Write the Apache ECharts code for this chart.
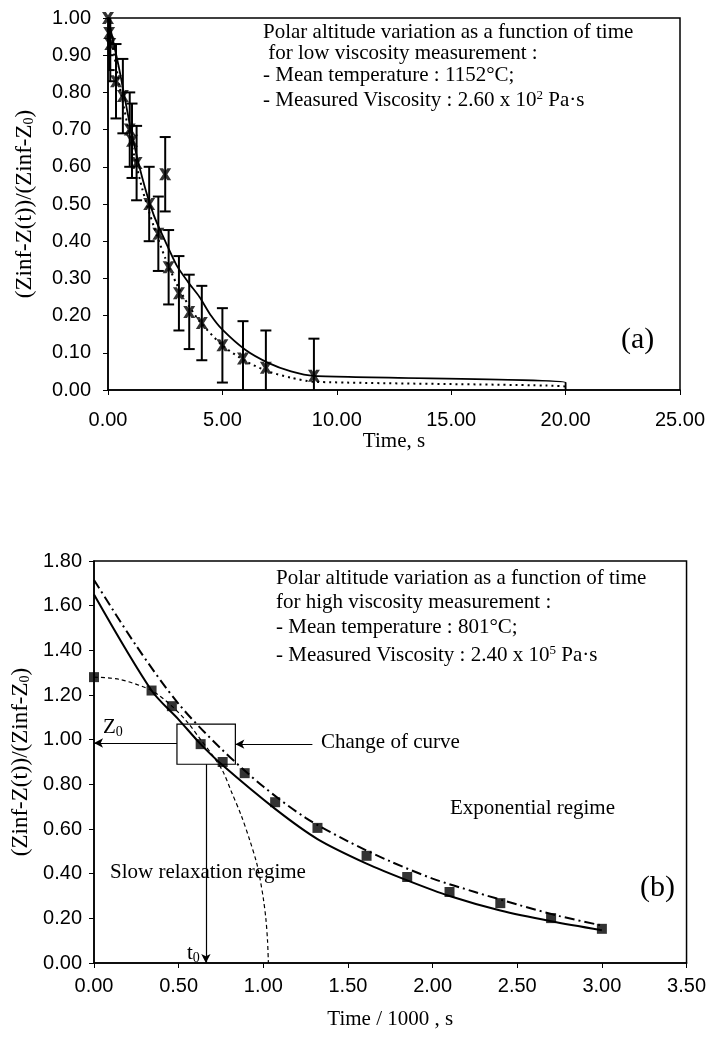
<!DOCTYPE html>
<html><head><meta charset="utf-8">
<script src="https://cdn.jsdelivr.net/npm/echarts@6/dist/echarts.min.js"></script>
<style>html,body{margin:0;padding:0;background:#fff}#c{width:709px;height:1038px}</style>
</head><body><div id="c"></div>
<script>
// ---------- Chart (a): low viscosity ----------
const aTime   = [0.0, 0.05, 0.1, 0.35, 0.65, 0.95, 1.05, 1.25, 1.8, 2.2, 2.5, 2.65, 3.1, 3.55, 4.1, 5.0, 5.9, 6.9, 9.0];
const aValue  = [1.00, 0.96, 0.93, 0.83, 0.79, 0.70, 0.67, 0.61, 0.50, 0.42, 0.58, 0.33, 0.26, 0.21, 0.18, 0.12, 0.085, 0.06, 0.038];
const aError  = [0.10, 0.10, 0.10, 0.10, 0.10, 0.10, 0.10, 0.10, 0.10, 0.10, 0.10, 0.10, 0.10, 0.10, 0.10, 0.10, 0.10, 0.10, 0.10];
const aSolidT = [0, 0.5, 1.0, 1.5, 2.0, 2.5, 3.0, 3.5, 4.0, 4.5, 5.0, 6.0, 7.0, 8.0, 9.0, 20.0, 20.0];
const aSolidV = [1.0, 0.86, 0.70, 0.57, 0.47, 0.40, 0.335, 0.29, 0.25, 0.20, 0.162, 0.108, 0.073, 0.05, 0.038, 0.02, 0.0];
const aDotT   = [0, 0.5, 1.0, 1.5, 2.0, 2.5, 3.0, 3.5, 4.0, 5.0, 6.0, 7.0, 8.0, 9.0, 20.0, 20.0];
const aDotV   = [1.0, 0.82, 0.67, 0.54, 0.44, 0.355, 0.285, 0.23, 0.185, 0.12, 0.078, 0.05, 0.033, 0.022, 0.009, 0.0];
const aXTicks = {min: 0, max: 25, interval: 5};
const aYTicks = {min: 0, max: 1, interval: 0.1};

// ---------- Chart (b): high viscosity ----------
const bTime   = [0.0, 0.34, 0.46, 0.63, 0.76, 0.89, 1.07, 1.32, 1.61, 1.85, 2.10, 2.40, 2.70, 3.00];
const bValue  = [1.28, 1.22, 1.15, 0.98, 0.90, 0.85, 0.72, 0.605, 0.48, 0.385, 0.318, 0.268, 0.201, 0.153];
const bSolidT = [0, 0.34, 0.5, 0.63, 0.76, 1.07, 1.32, 1.61, 1.85, 2.1, 2.4, 2.7, 3.0];
const bSolidV = [1.65, 1.22, 1.09, 0.98, 0.885, 0.69, 0.555, 0.445, 0.37, 0.30, 0.235, 0.187, 0.147];
const bDashDotT = [0, 0.25, 0.5, 0.75, 1.0, 1.25, 1.5, 1.75, 2.0, 2.25, 2.5, 2.75, 3.0];
const bDashDotV = [1.715, 1.42, 1.16, 0.96, 0.79, 0.65, 0.545, 0.455, 0.378, 0.318, 0.262, 0.21, 0.168];
const bSlowT  = [0, 0.15, 0.34, 0.46, 0.55, 0.63, 0.70, 0.76, 0.81, 0.87, 0.92, 0.96, 0.98, 1.0, 1.015, 1.025, 1.03];
const bSlowV  = [1.28, 1.27, 1.22, 1.15, 1.08, 1.0, 0.93, 0.86, 0.77, 0.66, 0.55, 0.45, 0.38, 0.29, 0.20, 0.10, 0.0];
const bBox    = [[0.49, 1.07], [0.835, 0.89]];
const bZ0Arrow = [[0.49, 0.985], [0.0, 0.985]];
const bChangeArrow = [[1.29, 0.98], [0.835, 0.98]];
const bT0Arrow = [[0.661, 0.89], [0.661, 0.0]];
const bXTicks = {min: 0, max: 3.5, interval: 0.5};
const bYTicks = {min: 0, max: 1.8, interval: 0.2};

const SERIF = '"Liberation Serif","Times New Roman",serif';
const SANS = '"Liberation Sans",Arial,sans-serif';
const pairs = (xs, ys) => xs.map((x, i) => [x, ys[i]]);
const fmt = v => Number(v).toFixed(2);

const chart = echarts.init(document.getElementById('c'));

function xAxisDef(grid, ticks, name, margin, gap) {
  return {
    type: 'value', gridIndex: grid, min: ticks.min, max: ticks.max, interval: ticks.interval,
    axisLine: {show: true, onZero: false, lineStyle: {color: '#000', width: 1.5}},
    axisTick: {show: true, length: 5, lineStyle: {color: '#000', width: 1}},
    splitLine: {show: false},
    axisLabel: {color: '#000', fontFamily: SANS, fontSize: 20, margin: margin, formatter: fmt, showMaxLabel: true},
    name: name, nameLocation: 'middle', nameGap: gap,
    nameTextStyle: {color: '#000', fontFamily: SERIF, fontSize: 21}
  };
}
function yAxisDef(grid, ticks, margin, gap) {
  return {
    type: 'value', gridIndex: grid, min: ticks.min, max: ticks.max, interval: ticks.interval,
    axisLine: {show: true, onZero: false, lineStyle: {color: '#000', width: 1.5}},
    axisTick: {show: true, length: 5, lineStyle: {color: '#000', width: 1}},
    splitLine: {show: false},
    axisLabel: {color: '#000', fontFamily: SANS, fontSize: 20, margin: margin, formatter: fmt},
    name: '(Zinf-Z(t))/(Zinf-Z{sub|0})', nameLocation: 'middle', nameRotate: 90, nameGap: gap,
    nameTextStyle: {color: '#000', fontFamily: SERIF, fontSize: 23,
      rich: {sub: {fontFamily: SERIF, fontSize: 14, verticalAlign: 'bottom', padding: [9, 0, 0, 0]}}}
  };
}

const xMark = 'path://M0,0 L3.2,0 L5,2.8 L6.8,0 L10,0 L6.8,5 L10,10 L6.8,10 L5,7.2 L3.2,10 L0,10 L3.2,5 Z';

const errData = aTime.map((t, i) => [t, aValue[i] - aError[i], aValue[i] + aError[i]]);

function textEl(x, y, text, size, extra) {
  return Object.assign({
    type: 'text', x: x, y: y, silent: true, z: 100,
    style: {text: text, fill: '#000', font: size + 'px ' + SERIF, align: 'left', verticalAlign: 'middle',
      rich: {
        sup: {fontFamily: SERIF, fontSize: 13, verticalAlign: 'top', padding: [0, 0, 8, 0], fill: '#000'},
        sub: {fontFamily: SERIF, fontSize: 14, verticalAlign: 'bottom', padding: [10, 0, 0, 0], fill: '#000'}
      }}
  }, extra || {});
}

const option = {
  animation: false,
  backgroundColor: '#fff',
  grid: [
    {left: 108, top: 18, width: 572, height: 372, show: true, borderColor: '#000', borderWidth: 1.5, backgroundColor: 'transparent'},
    {left: 94, top: 561, width: 604, height: 402, show: true, borderColor: '#000', borderWidth: 1.5, backgroundColor: 'transparent'}
  ],
  xAxis: [
    xAxisDef(0, aXTicks, 'Time, s', 20, 38),
    xAxisDef(1, bXTicks, 'Time / 1000 , s', 13, 46)
  ],
  yAxis: [
    yAxisDef(0, aYTicks, 17, 72),
    yAxisDef(1, bYTicks, 12, 60)
  ],
  series: [
    {
      type: 'custom', xAxisIndex: 0, yAxisIndex: 0, data: errData, clip: true, silent: true, z: 3,
      encode: {x: 0, y: [1, 2]},
      renderItem: function (params, api) {
        const lo = api.coord([api.value(0), api.value(1)]);
        const hi = api.coord([api.value(0), api.value(2)]);
        const w = 5.5;
        const st = {stroke: '#000', lineWidth: 2};
        return {type: 'group', children: [
          {type: 'line', shape: {x1: lo[0], y1: lo[1], x2: hi[0], y2: hi[1]}, style: st},
          {type: 'line', shape: {x1: lo[0] - w, y1: lo[1], x2: lo[0] + w, y2: lo[1]}, style: st},
          {type: 'line', shape: {x1: hi[0] - w, y1: hi[1], x2: hi[0] + w, y2: hi[1]}, style: st}
        ]};
      }
    },
    {type: 'line', xAxisIndex: 0, yAxisIndex: 0, data: pairs(aSolidT, aSolidV), showSymbol: false, smooth: 0.25,
      lineStyle: {color: '#000', width: 1.8, type: 'solid'}, z: 2},
    {type: 'line', xAxisIndex: 0, yAxisIndex: 0, data: pairs(aDotT, aDotV), showSymbol: false, smooth: 0.25,
      lineStyle: {color: '#000', width: 2, type: [2, 4]}, z: 2},
    {type: 'scatter', xAxisIndex: 0, yAxisIndex: 0, data: pairs(aTime, aValue), symbol: xMark, symbolSize: 12,
      itemStyle: {color: '#000'}, z: 4},

    {type: 'line', xAxisIndex: 1, yAxisIndex: 1, data: pairs(bSolidT, bSolidV), showSymbol: false, smooth: 0.3,
      lineStyle: {color: '#000', width: 2}, z: 2},
    {type: 'line', xAxisIndex: 1, yAxisIndex: 1, data: pairs(bDashDotT, bDashDotV), showSymbol: false, smooth: 0.3,
      lineStyle: {color: '#000', width: 2, type: [10, 4, 2, 4]}, z: 2},
    {type: 'line', xAxisIndex: 1, yAxisIndex: 1, data: pairs(bSlowT, bSlowV), showSymbol: false, smooth: 0.3,
      lineStyle: {color: '#000', width: 1.2, type: [4, 3]}, z: 2,
      markArea: {silent: true, itemStyle: {color: 'rgba(0,0,0,0)', borderColor: '#000', borderWidth: 1.2},
        label: {show: false},
        data: [[{coord: bBox[0]}, {coord: bBox[1]}]]},
      markLine: {silent: true, symbol: ['none', 'arrow'], symbolSize: [7, 9], precision: 3,
        label: {show: false}, lineStyle: {color: '#000', width: 1.2, type: 'solid'},
        data: [
          [{coord: bZ0Arrow[0]}, {coord: bZ0Arrow[1]}],
          [{coord: bChangeArrow[0]}, {coord: bChangeArrow[1]}],
          [{coord: bT0Arrow[0]}, {coord: bT0Arrow[1]}]
        ]}
    },
    {type: 'scatter', xAxisIndex: 1, yAxisIndex: 1, data: pairs(bTime, bValue), symbol: 'rect', symbolSize: 10,
      itemStyle: {color: '#000'}, z: 4}
  ],
  graphic: [
    textEl(263, 32, 'Polar altitude variation as a function of time', 21),
    textEl(263, 53, ' for low viscosity measurement :', 21),
    textEl(263, 75, '- Mean temperature : 1152°C;', 21),
    textEl(263, 100, '- Measured Viscosity : 2.60 x 10{sup|2} Pa·s', 21),
    textEl(621, 340, '(a)', 30),

    textEl(276, 578, 'Polar altitude variation as a function of time', 21),
    textEl(276, 602, 'for high viscosity measurement :', 21),
    textEl(276, 627, '- Mean temperature : 801°C;', 21),
    textEl(276, 655, '- Measured Viscosity : 2.40 x 10{sup|5} Pa·s', 21),
    textEl(321, 742, 'Change of curve', 21),
    textEl(103, 727, 'Z{sub|0}', 21),
    textEl(187, 953, 't{sub|0}', 21),
    textEl(110, 872, 'Slow relaxation regime', 21),
    textEl(450, 808, 'Exponential regime', 21),
    textEl(640, 888, '(b)', 30)
  ]
};
chart.setOption(option);
</script>
</body></html>
